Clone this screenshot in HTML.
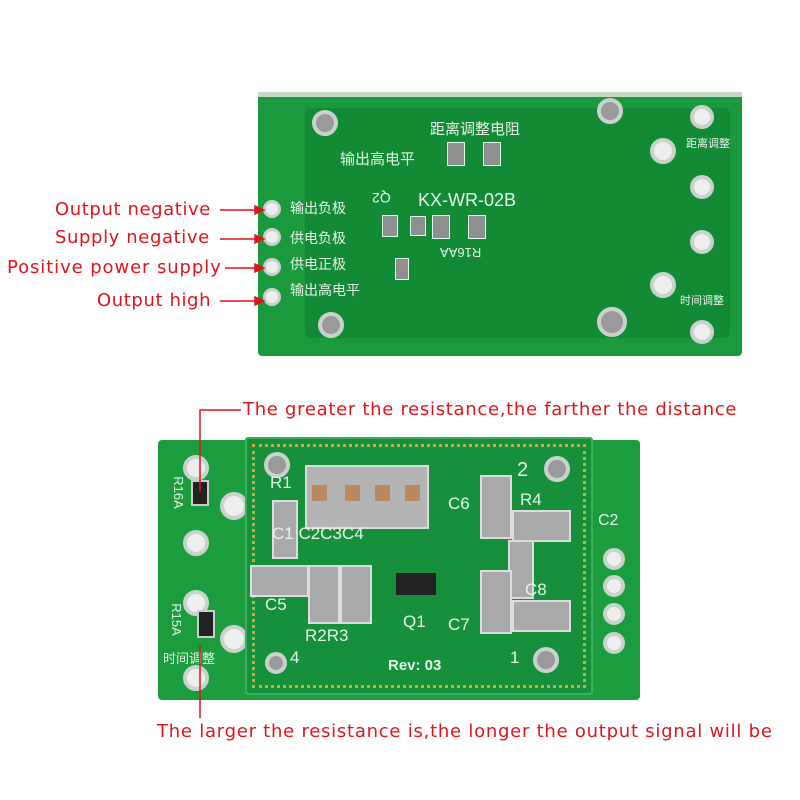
<!DOCTYPE html>
<html><head><meta charset="utf-8"><style>
body{margin:0;width:800px;height:800px;background:#fff;position:relative;overflow:hidden;font-family:"Liberation Sans","Noto Sans CJK SC",sans-serif}
.a{position:absolute}
.r{color:#e0141c;font-family:"DejaVu Sans",sans-serif;font-size:18px;letter-spacing:0.6px;white-space:nowrap;position:absolute}
.h{position:absolute;border-radius:50%;background:#eee;border:4px solid #c9d3cc;box-sizing:border-box}
.w{color:#e8f4ea;position:absolute;white-space:nowrap}
.p{position:absolute;background:#8f8f8f;border:1px solid #dfe;}
</style></head><body>
<!-- top board -->
<div class="a" style="left:258px;top:92px;width:484px;height:264px;background:#1a9a3c;border-radius:4px"></div>
<div class="a" style="left:258px;top:92px;width:484px;height:5px;background:#c8d8c8"></div>
<div class="a" style="left:305px;top:108px;width:425px;height:230px;background:#138a34;border-radius:6px"></div>
<div class="h" style="left:312px;top:110px;width:26px;height:26px;background:#9a9a9a"></div>
<div class="h" style="left:597px;top:98px;width:26px;height:26px;background:#9a9a9a"></div>
<div class="h" style="left:318px;top:312px;width:26px;height:26px;background:#9a9a9a"></div>
<div class="h" style="left:597px;top:307px;width:30px;height:30px;background:#9a9a9a"></div>
<div class="h" style="left:690px;top:105px;width:24px;height:24px"></div>
<div class="h" style="left:650px;top:138px;width:26px;height:26px"></div>
<div class="h" style="left:690px;top:175px;width:24px;height:24px"></div>
<div class="h" style="left:690px;top:230px;width:24px;height:24px"></div>
<div class="h" style="left:650px;top:272px;width:26px;height:26px"></div>
<div class="h" style="left:690px;top:320px;width:24px;height:24px"></div>
<div class="h" style="left:263px;top:200px;width:18px;height:18px;border-width:3px"></div>
<div class="h" style="left:263px;top:228px;width:18px;height:18px;border-width:3px"></div>
<div class="h" style="left:263px;top:258px;width:18px;height:18px;border-width:3px"></div>
<div class="h" style="left:263px;top:288px;width:18px;height:18px;border-width:3px"></div>
<div class="w" style="left:430px;top:118px;font-size:15px">距离调整电阻</div>
<div class="w" style="left:340px;top:148px;font-size:15px">输出高电平</div>
<div class="p" style="left:447px;top:142px;width:16px;height:22px"></div>
<div class="p" style="left:483px;top:142px;width:16px;height:22px"></div>
<div class="w" style="left:418px;top:190px;font-size:18px">KX-WR-02B</div>
<div class="w" style="left:372px;top:190px;font-size:14px;transform:rotate(180deg)">Q2</div>
<div class="w" style="left:440px;top:245px;font-size:13px;transform:rotate(180deg)">R16AA</div>
<div class="p" style="left:382px;top:215px;width:14px;height:20px"></div>
<div class="p" style="left:410px;top:216px;width:14px;height:18px"></div>
<div class="p" style="left:432px;top:215px;width:16px;height:22px"></div>
<div class="p" style="left:468px;top:215px;width:16px;height:22px"></div>
<div class="p" style="left:395px;top:258px;width:12px;height:20px"></div>
<div class="w" style="left:290px;top:198px;font-size:14px">输出负极</div>
<div class="w" style="left:290px;top:228px;font-size:14px">供电负极</div>
<div class="w" style="left:290px;top:254px;font-size:14px">供电正极</div>
<div class="w" style="left:290px;top:280px;font-size:14px">输出高电平</div>
<div class="w" style="left:686px;top:135px;font-size:11px">距离调整</div>
<div class="w" style="left:680px;top:292px;font-size:11px">时间调整</div>
<!-- top labels -->
<div class="r" style="left:55px;top:199px;letter-spacing:0.6px">Output negative</div>
<div class="r" style="left:55px;top:227px;letter-spacing:0.6px">Supply negative</div>
<div class="r" style="left:7px;top:257px;letter-spacing:0.9px">Positive power supply</div>
<div class="r" style="left:97px;top:290px;letter-spacing:0.6px">Output high</div>
<svg class="a" style="left:0;top:0" width="800" height="800">
<g stroke="#e0141c" stroke-width="1.5" fill="#e0141c">
<line x1="220" y1="210" x2="258" y2="210"/><polygon points="264,210 255,206 255,214"/>
<line x1="220" y1="239" x2="258" y2="239"/><polygon points="264,239 255,235 255,243"/>
<line x1="225" y1="268" x2="258" y2="268"/><polygon points="264,268 255,264 255,272"/>
<line x1="220" y1="301" x2="258" y2="301"/><polygon points="264,301 255,297 255,305"/>
</g></svg>
<!-- bottom outer board -->
<div class="a" style="left:158px;top:440px;width:482px;height:260px;background:#1b9d3e;border-radius:4px"></div>
<div class="h" style="left:183px;top:455px;width:26px;height:26px"></div>
<div class="h" style="left:183px;top:530px;width:26px;height:26px"></div>
<div class="h" style="left:183px;top:590px;width:26px;height:26px"></div>
<div class="h" style="left:183px;top:665px;width:26px;height:26px"></div>
<div class="h" style="left:220px;top:492px;width:28px;height:28px"></div>
<div class="h" style="left:220px;top:625px;width:28px;height:28px"></div>
<div class="h" style="left:603px;top:548px;width:22px;height:22px"></div>
<div class="h" style="left:603px;top:575px;width:22px;height:22px"></div>
<div class="h" style="left:603px;top:603px;width:22px;height:22px"></div>
<div class="h" style="left:603px;top:632px;width:22px;height:22px"></div>
<div class="w" style="left:162px;top:485px;font-size:13px;transform:rotate(90deg)">R16A</div>
<div class="w" style="left:160px;top:612px;font-size:13px;transform:rotate(90deg)">R15A</div>
<div class="w" style="left:163px;top:648px;font-size:13px">时间调整</div>
<div class="w" style="left:598px;top:512px;font-size:16px">C2</div>
<div class="a" style="left:191px;top:480px;width:14px;height:22px;background:#222;border:2px solid #ccc"></div>
<div class="a" style="left:197px;top:610px;width:14px;height:24px;background:#222;border:2px solid #ccc"></div>
<!-- inner module -->
<div class="a" style="left:245px;top:437px;width:348px;height:258px;background:#16903a;border:2px solid #3aae58;box-sizing:border-box;border-radius:3px"></div>
<div class="a" style="left:252px;top:444px;width:334px;height:244px;border:3px dotted #c9a94a;box-sizing:border-box"></div>
<div class="h" style="left:264px;top:452px;width:26px;height:26px;background:#9a9a9a"></div>
<div class="h" style="left:544px;top:456px;width:26px;height:26px;background:#9a9a9a"></div>
<div class="h" style="left:265px;top:652px;width:22px;height:22px;background:#9a9a9a"></div>
<div class="h" style="left:533px;top:647px;width:26px;height:26px;background:#9a9a9a"></div>
<div class="a" style="left:305px;top:465px;width:120px;height:60px;background:#b4b4b4;border:2px solid #ddd"></div>
<div class="a" style="left:312px;top:485px;width:15px;height:16px;background:#b98a60"></div>
<div class="a" style="left:345px;top:485px;width:15px;height:16px;background:#b98a60"></div>
<div class="a" style="left:375px;top:485px;width:15px;height:16px;background:#b98a60"></div>
<div class="a" style="left:405px;top:485px;width:15px;height:16px;background:#b98a60"></div>
<div class="a" style="left:272px;top:500px;width:22px;height:55px;background:#aaa;border:2px solid #ddd"></div>
<div class="a" style="left:480px;top:475px;width:28px;height:60px;background:#aaa;border:2px solid #ddd"></div>
<div class="a" style="left:512px;top:510px;width:55px;height:28px;background:#aaa;border:2px solid #ddd"></div>
<div class="a" style="left:508px;top:540px;width:22px;height:55px;background:#aaa;border:2px solid #ddd"></div>
<div class="a" style="left:480px;top:570px;width:28px;height:60px;background:#aaa;border:2px solid #ddd"></div>
<div class="a" style="left:512px;top:600px;width:55px;height:28px;background:#aaa;border:2px solid #ddd"></div>
<div class="a" style="left:250px;top:565px;width:55px;height:28px;background:#aaa;border:2px solid #ddd"></div>
<div class="a" style="left:308px;top:565px;width:28px;height:55px;background:#aaa;border:2px solid #ddd"></div>
<div class="a" style="left:340px;top:565px;width:28px;height:55px;background:#aaa;border:2px solid #ddd"></div>
<div class="a" style="left:396px;top:573px;width:40px;height:22px;background:#222"></div>
<div class="w" style="left:270px;top:473px;font-size:17px">R1</div>
<div class="w" style="left:272px;top:524px;font-size:17px">C1 C2C3C4</div>
<div class="w" style="left:448px;top:494px;font-size:17px">C6</div>
<div class="w" style="left:520px;top:490px;font-size:17px">R4</div>
<div class="w" style="left:517px;top:459px;font-size:20px">2</div>
<div class="w" style="left:265px;top:595px;font-size:17px">C5</div>
<div class="w" style="left:305px;top:626px;font-size:17px">R2R3</div>
<div class="w" style="left:403px;top:612px;font-size:17px">Q1</div>
<div class="w" style="left:448px;top:615px;font-size:17px">C7</div>
<div class="w" style="left:525px;top:580px;font-size:17px">C8</div>
<div class="w" style="left:388px;top:657px;font-size:15px;font-weight:bold">Rev:  03</div>
<div class="w" style="left:290px;top:648px;font-size:17px">4</div>
<div class="w" style="left:510px;top:648px;font-size:17px">1</div>
<!-- bottom labels -->
<div class="r" style="left:243px;top:399px;letter-spacing:0.7px">The greater the resistance,the farther the distance</div>
<div class="r" style="left:157px;top:721px;letter-spacing:0.75px">The larger the resistance is,the longer the output signal will be</div>
<svg class="a" style="left:0;top:0" width="800" height="800">
<g stroke="#e0141c" stroke-width="1.5" fill="none">
<polyline points="241,410 200,410 200,492"/>
<line x1="200" y1="645" x2="200" y2="718"/>
</g></svg>
</body></html>
